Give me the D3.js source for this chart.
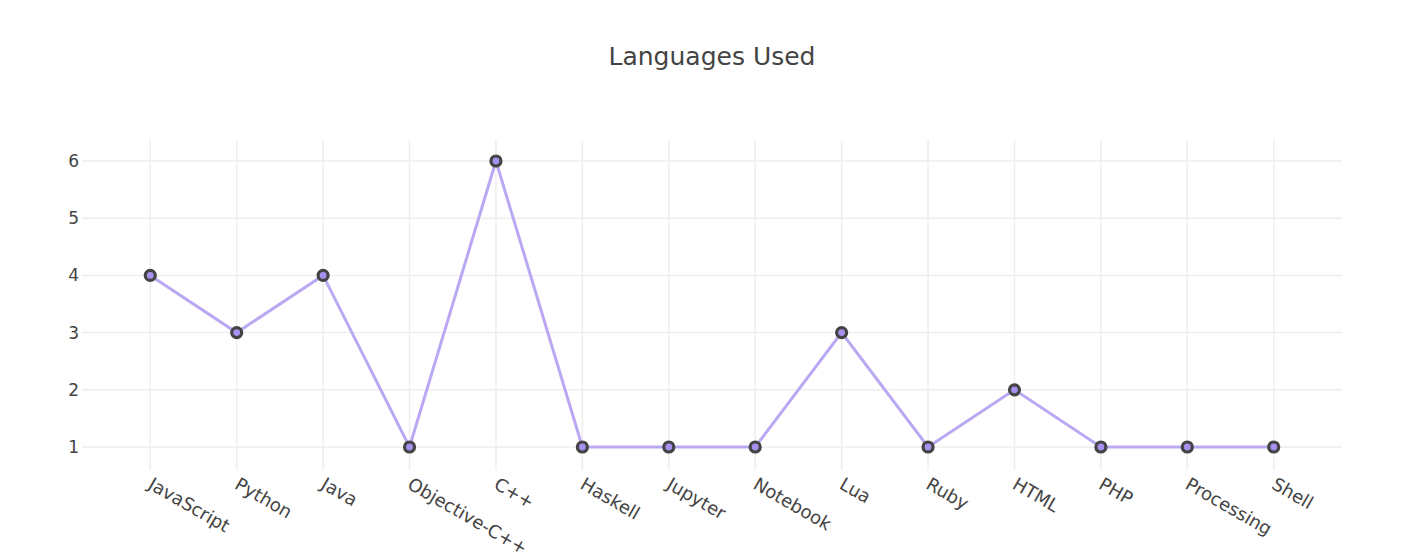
<!DOCTYPE html>
<html><head><meta charset="utf-8">
<script src="https://cdn.jsdelivr.net/npm/d3@7"></script>
<style>body{margin:0;background:#fff;} svg{display:block;}</style>
</head><body>
<svg id="c" width="1420" height="559"></svg>
<script>
const categories = ["JavaScript","Python","Java","Objective-C++","C++","Haskell","Jupyter","Notebook","Lua","Ruby","HTML","PHP","Processing","Shell"];
const values = [4,3,4,1,6,1,1,1,3,1,2,1,1,1];
const yTicks = [1,2,3,4,5,6];
const title = "Languages Used";

const svg = d3.select("#c");
const font = "Verdana, 'DejaVu Sans', sans-serif";
const L = 82, R = 1342, T = 140, B = 470;
const x = d3.scalePoint().domain(categories).range([L, R]).padding(0.79);
const y = d3.scaleLinear().domain([0.598, 6.367]).range([B, T]);

svg.append("text").attr("x", 712).attr("y", 65).attr("text-anchor", "middle")
  .attr("font-family", font).attr("font-size", 25).attr("fill", "#444").text(title);

const g = svg.append("g");
g.selectAll(".vg").data(categories).join("line")
  .attr("x1", d => x(d)).attr("x2", d => x(d)).attr("y1", T).attr("y2", B)
  .attr("stroke", "#eee").attr("stroke-width", 1.5);
g.selectAll(".hg").data(yTicks).join("line")
  .attr("x1", L).attr("x2", R).attr("y1", d => y(d)).attr("y2", d => y(d))
  .attr("stroke", "#eee").attr("stroke-width", 1.5);

const yAxis = d3.axisLeft(y).tickValues(yTicks).tickSize(0).tickPadding(3).tickFormat(d3.format("d"));
const ya = svg.append("g").attr("transform", `translate(${L},0)`).call(yAxis);
ya.select(".domain").remove();
ya.attr("font-size", null).attr("font-family", null);
ya.selectAll("text").attr("font-family", font).attr("font-size", 17).attr("fill", "#444");

const xAxis = d3.axisBottom(x).tickSize(0).tickPadding(0);
const xa = svg.append("g").attr("transform", `translate(0,${B})`).call(xAxis);
xa.select(".domain").remove();
xa.attr("font-size", null).attr("font-family", null);
xa.selectAll("text").attr("font-family", font).attr("font-size", 18).attr("fill", "#444")
  .attr("text-anchor", "start").attr("dy", null).attr("y", null)
  .attr("transform", "translate(3,6) rotate(30)").attr("dominant-baseline", "hanging");

const line = d3.line().x((d, i) => x(categories[i])).y(d => y(d));
svg.append("path").datum(values).attr("d", line).attr("fill", "none")
  .attr("stroke", "#bba8f3").attr("stroke-width", 3);
svg.selectAll(".pt").data(values).join("circle")
  .attr("cx", (d, i) => x(categories[i])).attr("cy", d => y(d)).attr("r", 5)
  .attr("fill", "#a890f0").attr("stroke", "#444").attr("stroke-width", 3.2);
</script>
</body></html>
